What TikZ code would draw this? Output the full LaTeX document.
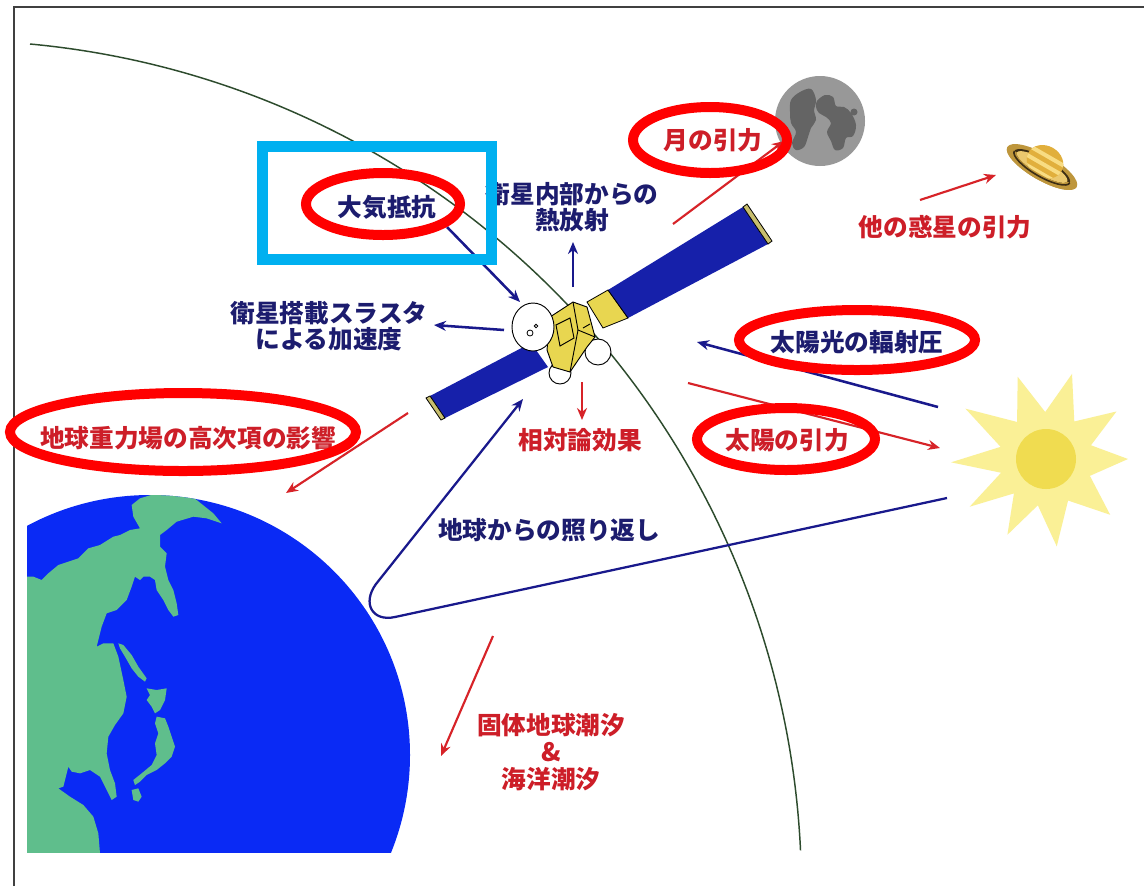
\documentclass[tikz,border=0pt]{standalone}
\usepackage{fontspec}
\newfontfamily\jpfont{Noto Sans CJK JP}
\usetikzlibrary{arrows.meta}

\definecolor{navytext}{RGB}{28,28,110}
\definecolor{arrowblue}{RGB}{25,25,140}
\definecolor{labelred}{RGB}{205,30,40}
\definecolor{arrowred}{RGB}{215,35,40}
\definecolor{ringred}{RGB}{255,0,0}
\definecolor{framecyan}{RGB}{0,176,240}
\definecolor{earthblue}{RGB}{10,42,245}
\definecolor{landgreen}{RGB}{95,190,140}
\definecolor{panelblue}{RGB}{22,32,170}
\definecolor{busyellow}{RGB}{232,214,80}
\definecolor{capolive}{RGB}{200,190,110}
\definecolor{orbitgreen}{RGB}{45,75,45}
\definecolor{moongray}{RGB}{152,152,152}
\definecolor{moondark}{RGB}{100,100,100}
\definecolor{sunray}{RGB}{250,240,150}
\definecolor{suncore}{RGB}{240,220,80}
\definecolor{ringtan}{RGB}{190,150,60}
\definecolor{ringdark}{RGB}{60,45,20}
\definecolor{ringlight}{RGB}{235,200,110}
\definecolor{saturnbody}{RGB}{225,175,60}
\definecolor{saturnband}{RGB}{248,220,130}

\begin{document}
\begin{tikzpicture}[x=0.75pt,y=-0.75pt,
  labelfont/.style={font=\jpfont\bfseries\fontsize{18.5}{19.5}\selectfont, inner sep=0pt, align=center},
  bluetext/.style={labelfont, text=navytext},
  redtext/.style={labelfont, text=labelred},
  bluearrow/.style={draw=arrowblue, line width=1.9pt, -{Stealth[length=9pt,width=7.5pt]}},
  redarrow/.style={draw=arrowred, line width=1.6pt, -{Stealth[length=9pt,width=7.5pt]}},
  ring/.style={draw=ringred, line width=7.5pt},
  partline/.style={draw=black, line width=0.7pt},
  whitepart/.style={fill=white, draw=black, line width=0.7pt}]

\useasboundingbox (0,0) rectangle (1144,886);
\fill[white] (0,0) rectangle (1144,886);

% page frame
\draw[black!75, line width=1.4pt] (14,886) -- (14,7) -- (1144,7);

% orbit of the satellite
\draw[orbitgreen, line width=1.1pt] (30,44) arc[start angle=-84.7, end angle=-2.7, radius=850];

% ---------------- Earth ----------------
\begin{scope}
  \clip (27,0) rectangle (1144,852);
  \fill[earthblue] (150,755) circle[radius=260];
  \clip (150,755) circle[radius=260];
  \begin{scope}[shift={(0,480)}, scale=1/3]
    % Asian mainland with Kamchatka and Korea
    \fill[landgreen] (60,290) -- (100,290) -- (125,300) -- (145,280) -- (175,255) -- (235,235)
      -- (265,205) -- (300,195) -- (340,170) -- (360,165) -- (390,150) -- (420,145) -- (400,110)
      -- (395,75) -- (420,55) -- (470,40) -- (560,40) -- (590,60) -- (640,100) -- (665,130)
      -- (620,115) -- (580,110) -- (530,125) -- (500,150) -- (480,165) -- (480,200) -- (500,220)
      -- (495,260) -- (505,300) -- (520,330) -- (530,370) -- (535,405) -- (520,410) -- (505,390)
      -- (490,360) -- (470,330) -- (465,300) -- (450,290) -- (430,290) -- (420,300) -- (405,290)
      -- (395,320) -- (380,360) -- (350,390) -- (320,400) -- (305,440) -- (290,500) -- (310,490)
      -- (340,490) -- (355,530) -- (370,600) -- (380,650) -- (370,700) -- (345,735) -- (325,770)
      -- (320,820) -- (330,870) -- (345,910) -- (350,950) -- (335,960) -- (320,930) -- (300,890)
      -- (270,870) -- (240,880) -- (215,875) -- (205,860) -- (200,880) -- (190,920) -- (175,925)
      -- (210,950) -- (250,975) -- (280,1010) -- (295,1060) -- (300,1120) -- (60,1120) -- cycle;
    % Sakhalin
    \fill[landgreen] (355,490) -- (370,495) -- (395,525) -- (415,560) -- (440,595) -- (435,605)
      -- (415,590) -- (395,565) -- (375,530) -- (360,505) -- cycle;
    % Hokkaido
    \fill[landgreen] (440,625) -- (470,630) -- (500,625) -- (495,660) -- (480,690) -- (465,700)
      -- (455,680) -- (440,660) -- (450,645) -- cycle;
    % Honshu
    \fill[landgreen] (470,710) -- (495,715) -- (505,740) -- (515,770) -- (525,800) -- (515,830)
      -- (495,850) -- (470,870) -- (440,885) -- (420,905) -- (405,915) -- (400,900) -- (425,880)
      -- (455,855) -- (470,825) -- (465,790) -- (475,760) -- (465,730) -- cycle;
    % Kyushu
    \fill[landgreen] (395,930) -- (415,925) -- (425,950) -- (415,965) -- (400,960) -- cycle;
  \end{scope}
\end{scope}

% ---------------- Moon ----------------
\fill[moongray] (820,121) circle[radius=45];
\fill[moondark] plot[smooth cycle, tension=0.6] coordinates {(791,100) (800,92) (811,89) (816,100)
  (814,110) (816,120) (811,128) (808,137) (804,147) (796,150) (792,143) (796,132) (791,123) (790,112)};
\fill[moondark] plot[smooth cycle, tension=0.6] coordinates {(817,101) (825,95) (833,97) (836,106)
  (844,107) (851,113) (856,125) (853,136) (846,138) (843,148) (835,150) (831,141) (827,132)
  (831,123) (826,117) (819,113) (816,107)};
\fill[moondark] (854,112) circle[radius=3.5];

% ---------------- Saturn ----------------
\begin{scope}[shift={(1042,167)}, rotate=-30]
  \fill[ringtan] (0,0) ellipse[x radius=40, y radius=13];
  \fill[ringdark] (0,0) ellipse[x radius=32, y radius=9.5];
  \fill[ringlight] (0,0) ellipse[x radius=29, y radius=7.5];
  \begin{scope}
    \clip (0,-6) ellipse[x radius=19, y radius=16];
    \fill[saturnbody] (-20,-23) rectangle (20,11);
    \fill[saturnband] (-20,-14) rectangle (20,-10);
    \fill[saturnband] (-20,-5) rectangle (20,-1);
    \fill[saturnband] (-20,4) rectangle (20,7);
  \end{scope}
  \fill[ringtan] (40,0) arc[start angle=0, end angle=180, x radius=40, y radius=13]
    -- (-29,0) arc[start angle=180, end angle=0, x radius=29, y radius=7.5] -- cycle;
  \draw[ringdark, line width=1.2pt] (32,0) arc[start angle=0, end angle=180, x radius=32, y radius=9.5];
\end{scope}

% ---------------- Sun ----------------
\fill[sunray, shift={(1046,459)}] (0:82) -- (-17:47) -- (-34:85) -- (-53:47) -- (-73:89) -- (-91:47)
  -- (-109:87) -- (-128:47) -- (-148:95) -- (-165:47) -- (-182:95) -- (-197:47) -- (-212:90)
  -- (-227:47) -- (-243:85) -- (-260:47) -- (-277:88) -- (-298:47) -- (-319:85) -- (-339:47) -- cycle;
\fill[suncore] (1046,459) circle[radius=30];

% ---------------- Satellite ----------------
% left solar panel
\fill[panelblue] (430,396) -- (531,343) -- (548,367) -- (445,418) -- cycle;
\filldraw[fill=capolive, draw=black, line width=0.6pt] (430,396) -- (426,398) -- (441,420) -- (445,418) -- cycle;
% right solar panel
\filldraw[fill=busyellow, draw=black, line width=0.6pt] (587,302) -- (608,290) -- (628,318) -- (603,328) -- cycle;
\fill[panelblue] (608,290) -- (743,207) -- (768,244) -- (628,318) -- cycle;
\draw[black, line width=0.6pt] (608,290) -- (628,318);
\filldraw[fill=capolive, draw=black, line width=0.6pt] (743,207) -- (747,204) -- (772,241) -- (768,244) -- cycle;
% lower antennas
\draw[whitepart] (560,373) circle[radius=11];
\draw[whitepart] (598,352) circle[radius=13];
% bus
\filldraw[fill=busyellow, draw=black, line width=0.7pt] (550,317) -- (573,302) -- (587,307) -- (595,337)
  -- (587,347) -- (570,372) -- (553,367) -- (547,350) -- cycle;
\draw[partline] (573,302) -- (578,330) -- (595,337);
\draw[partline] (578,330) -- (570,372);
\draw[partline] (556,325) -- (570,318) -- (574,338) -- (560,346) -- cycle;
\draw[partline] (583,328) -- (590,324);
% dish antenna
\draw[whitepart] (533,327) ellipse[x radius=21, y radius=24];
\draw[black, line width=0.6pt] (530,333) circle[radius=3];
\draw[black, line width=0.6pt] (536,326) circle[radius=1.8];

% ---------------- Connectors ----------------
\coordinate (dragS) at (447,227);   \coordinate (dragE) at (520,302);
\coordinate (heatS) at (573,287);   \coordinate (heatE) at (573,242);
\coordinate (thrS) at (504,330);    \coordinate (thrE) at (434,325);
\coordinate (radS) at (938,407);    \coordinate (radE) at (697,342);
\coordinate (albS) at (947,498);    \coordinate (albE) at (523,399);
\coordinate (moonS) at (673,224);   \coordinate (moonE) at (784,141);
\coordinate (plS) at (920,200);     \coordinate (plE) at (996,175);
\coordinate (geoS) at (408,413);    \coordinate (geoE) at (286,493);
\coordinate (relS) at (582,382);    \coordinate (relE) at (582,420);
\coordinate (sunS) at (688,383);    \coordinate (sunE) at (940,448);
\coordinate (tideS) at (493,636);   \coordinate (tideE) at (441,756);

\draw[bluearrow] (dragS) -- (dragE);
\draw[bluearrow] (heatS) -- (heatE);
\draw[bluearrow] (thrS) -- (thrE);
\draw[bluearrow] (radS) -- (radE);
\draw[bluearrow, line width=1.7pt] (albS) -- (395,617) .. controls (372,622) and (362,603) .. (376,584) -- (albE);
\draw[redarrow] (moonS) -- (moonE);
\draw[redarrow] (plS) -- (plE);
\draw[redarrow] (geoS) -- (geoE);
\draw[redarrow] (relS) -- (relE);
\draw[redarrow] (sunS) -- (sunE);
\draw[redarrow] (tideS) -- (tideE);

% ---------------- Labels ----------------
\node[bluetext] (lblDrag) at (387,207) {大気抵抗};
\node[bluetext] (lblHeat) at (572,207) {衛星内部からの\\熱放射};
\node[bluetext, font=\jpfont\bfseries\fontsize{18.5}{20}\selectfont] (lblThrust) at (329,326) {衛星搭載スラスタ\\による加速度};
\node[bluetext] (lblRad) at (857,342) {太陽光の輻射圧};
\node[bluetext] (lblAlb) at (549,530) {地球からの照り返し};
\node[redtext] (lblMoon) at (713,140) {月の引力};
\node[redtext] (lblPlanets) at (945,227) {他の惑星の引力};
\node[redtext] (lblGeo) at (188,438) {地球重力場の高次項の影響};
\node[redtext] (lblRel) at (580,440) {相対論効果};
\node[redtext] (lblSun) at (787,440) {太陽の引力};
\node[redtext, font=\jpfont\bfseries\fontsize{18.5}{20}\selectfont] (lblTide) at (551,752)
  {固体地球潮汐\\{\fontsize{19}{20}\selectfont\&}\\海洋潮汐};

% ---------------- Highlights ----------------
\draw[framecyan, line width=8.25pt] (262.5,146) rectangle (491.5,259.5);
\draw[ring] (710,140) ellipse[x radius=77, y radius=33];
\draw[ring] (383,204) ellipse[x radius=77, y radius=31];
\draw[ring] (857,340) ellipse[x radius=118, y radius=30];
\draw[ring] (786,439) ellipse[x radius=89, y radius=31];
\draw[ring] (183,432) ellipse[x radius=173, y radius=39];
\end{tikzpicture}
\end{document}
